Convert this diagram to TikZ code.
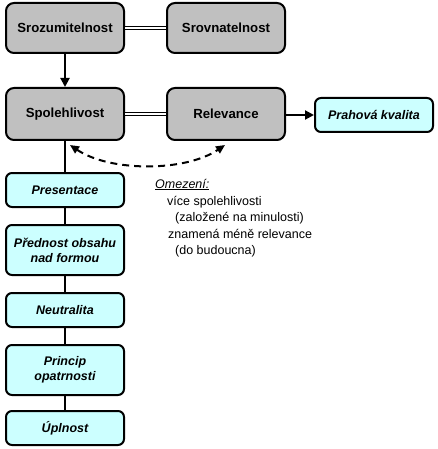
\documentclass[tikz,border=0pt]{standalone}
\usepackage{fontspec}
\setmainfont{Liberation Sans}
\usetikzlibrary{arrows.meta}
\definecolor{boxgray}{RGB}{192,192,192}
\definecolor{boxcyan}{RGB}{204,255,255}
\tikzset{
  graybox/.style={draw=black, line width=2pt, fill=boxgray, rounded corners=8pt,
    minimum width=118pt, font=\fontsize{13.2}{15}\selectfont\bfseries, align=center, inner sep=0pt},
  cyanbox/.style={draw=black, line width=2pt, fill=boxcyan, rounded corners=6pt,
    minimum width=118pt, font=\fontsize{12.5}{15}\selectfont\bfseries\itshape, align=center, inner sep=0pt},
  dbl/.style={draw=black, line width=1pt, double=white, double distance=2pt},
  conn/.style={draw=black, line width=2pt},
  arr/.style={draw=black, line width=2pt, -{Triangle[length=9pt,width=9pt]}},
  note/.style={anchor=base west, inner sep=0pt, font=\fontsize{12.5}{15}\selectfont},
}
\begin{document}
\begin{tikzpicture}[x=1pt,y=-1pt]
\useasboundingbox (0,0) rectangle (438,449);
\node[graybox, minimum height=50pt] (sroz) at (65,28) {Srozumitelnost};
\node[graybox, minimum height=50pt] (srov) at (226,28) {Srovnatelnost};
\node[graybox, minimum height=52pt] (spol) at (65,114) {Spolehlivost};
\node[graybox, minimum height=52pt] (rel) at (226,114) {Relevance};
\node[cyanbox, minimum height=34pt] (prah) at (374,115) {Prahová kvalita};
\node[cyanbox, minimum height=34pt] (pres) at (65,190) {Presentace};
\node[cyanbox, minimum height=50pt] (pred) at (65,250) {Přednost obsahu\\nad formou};
\node[cyanbox, minimum height=34pt] (neut) at (65,310) {Neutralita};
\node[cyanbox, minimum height=50pt] (princ) at (65,370) {Princip\\opatrnosti};
\node[cyanbox, minimum height=34pt] (upl) at (65,428) {Úplnost};

\draw[dbl] (sroz) -- (srov);
\draw[dbl] (spol) -- (rel);
\draw[arr] (sroz) -- (spol);
\draw[arr] (rel.east |- prah.west) -- (prah.west);
\draw[conn] (spol) -- (pres);
\draw[conn] (pres) -- (pred);
\draw[conn] (pred) -- (neut);
\draw[conn] (neut) -- (princ);
\draw[conn] (princ) -- (upl);

\coordinate (dl) at (70,145);
\coordinate (dr) at (225,145);
\draw[line width=2pt, dash pattern=on 7pt off 5pt, {Triangle[length=9pt,width=8pt]}-{Triangle[length=9pt,width=8pt]}]
  (dl) .. controls (110,172) and (185,172) .. (dr);

\node[note] (om1) at (155,188) {\itshape\underline{Omezení:}};
\node[note] (om2) at (167,205) {více spolehlivosti};
\node[note] (om3) at (175,221) {(založené na minulosti)};
\node[note] (om4) at (168,238) {znamená méně relevance};
\node[note] (om5) at (175,254) {(do budoucna)};
\end{tikzpicture}
\end{document}
